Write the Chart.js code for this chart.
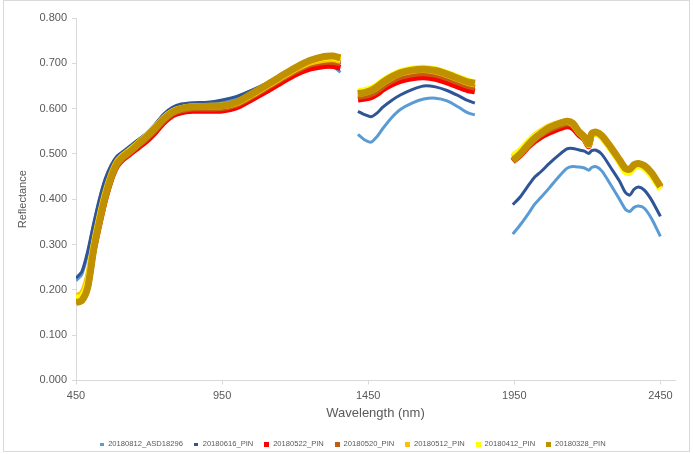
<!DOCTYPE html>
<html>
<head>
<meta charset="utf-8">
<script src="https://cdn.jsdelivr.net/npm/chart.js@4/dist/chart.umd.min.js"></script>
<style>
  html, body { margin: 0; padding: 0; background: #fff; }
  #wrap { width: 693px; height: 454px; position: relative; }
</style>
</head>
<body>
<div id="wrap"><canvas id="c" width="693" height="454"></canvas></div>
<script>
// Wavelength grid (nm); null reflectance at 1385 and 1880 = removed water-absorption bands
const wavelengths = [
  450, 470, 490, 510, 530, 550, 570, 590, 610, 630, 660, 690, 720, 750, 780, 810, 850, 900, 950, 1000, 1050, 1100, 1150, 1200, 1250, 1300, 1330, 1355,
  1385,
  1415, 1440, 1460, 1480, 1500, 1530, 1560, 1600, 1640, 1680, 1720, 1760, 1790, 1815,
  1880,
  1945, 1970, 2000, 2020, 2040, 2070, 2100, 2130, 2150, 2170, 2190, 2205, 2215, 2230, 2250, 2280, 2310, 2330, 2345, 2360, 2375, 2395, 2420, 2450
];

const seriesNames = ['20180812_ASD18296', '20180616_PIN', '20180522_PIN', '20180520_PIN', '20180512_PIN', '20180412_PIN', '20180328_PIN'];

const asd20180812 = [
  0.220, 0.234, 0.280, 0.342, 0.398, 0.443, 0.473, 0.494, 0.504, 0.514, 0.529, 0.544, 0.563, 0.585, 0.600, 0.607, 0.610, 0.611, 0.615, 0.623, 0.636, 0.650, 0.665, 0.680, 0.692, 0.697, 0.693, 0.680,
  null,
  0.543, 0.530, 0.526, 0.538, 0.556, 0.580, 0.598, 0.612, 0.621, 0.623, 0.617, 0.603, 0.591, 0.586,
  null,
  0.323, 0.343, 0.370, 0.389, 0.403, 0.425, 0.448, 0.468, 0.472, 0.471, 0.469, 0.464, 0.470, 0.472, 0.462, 0.432, 0.400, 0.378, 0.373, 0.382, 0.385, 0.380, 0.357, 0.318
];
const pin20180616 = [
  0.226, 0.240, 0.285, 0.345, 0.400, 0.445, 0.475, 0.495, 0.505, 0.515, 0.530, 0.545, 0.565, 0.588, 0.603, 0.610, 0.613, 0.614, 0.619, 0.627, 0.640, 0.655, 0.672, 0.690, 0.703, 0.708, 0.706, 0.698,
  null,
  0.594, 0.586, 0.582, 0.590, 0.603, 0.618, 0.630, 0.642, 0.650, 0.648, 0.640, 0.628, 0.618, 0.612,
  null,
  0.388, 0.405, 0.432, 0.449, 0.460, 0.479, 0.496, 0.511, 0.512, 0.509, 0.506, 0.501, 0.507, 0.508, 0.499, 0.470, 0.440, 0.415, 0.409, 0.422, 0.427, 0.420, 0.398, 0.362
];
const pin20180522 = [
  0.174, 0.178, 0.205, 0.285, 0.345, 0.400, 0.443, 0.473, 0.488, 0.498, 0.513, 0.528, 0.547, 0.569, 0.585, 0.592, 0.595, 0.595, 0.596, 0.603, 0.620, 0.638, 0.657, 0.675, 0.688, 0.694, 0.694, 0.690,
  null,
  0.620, 0.622, 0.625, 0.632, 0.642, 0.653, 0.661, 0.667, 0.669, 0.666, 0.658, 0.648, 0.641, 0.638,
  null,
  0.483, 0.497, 0.517, 0.528, 0.537, 0.547, 0.555, 0.561, 0.557, 0.543, 0.532, 0.517, 0.541, 0.545, 0.537, 0.512, 0.484, 0.465, 0.463, 0.473, 0.476, 0.471, 0.455, 0.425
];
const pin20180520 = [
  0.176, 0.180, 0.210, 0.290, 0.352, 0.405, 0.446, 0.476, 0.491, 0.501, 0.517, 0.533, 0.552, 0.573, 0.589, 0.596, 0.600, 0.600, 0.601, 0.609, 0.626, 0.645, 0.664, 0.682, 0.697, 0.703, 0.703, 0.700,
  null,
  0.626, 0.628, 0.632, 0.639, 0.649, 0.661, 0.670, 0.676, 0.678, 0.675, 0.667, 0.657, 0.650, 0.646,
  null,
  0.484, 0.499, 0.520, 0.532, 0.542, 0.553, 0.561, 0.567, 0.563, 0.547, 0.535, 0.520, 0.543, 0.546, 0.538, 0.513, 0.485, 0.466, 0.464, 0.474, 0.477, 0.472, 0.456, 0.426
];
const pin20180512 = [
  0.186, 0.192, 0.228, 0.300, 0.362, 0.415, 0.455, 0.483, 0.497, 0.507, 0.523, 0.540, 0.559, 0.580, 0.594, 0.601, 0.604, 0.604, 0.605, 0.612, 0.629, 0.648, 0.667, 0.686, 0.701, 0.708, 0.709, 0.705,
  null,
  0.632, 0.635, 0.639, 0.646, 0.656, 0.668, 0.677, 0.683, 0.685, 0.682, 0.674, 0.664, 0.657, 0.653,
  null,
  0.492, 0.506, 0.528, 0.541, 0.550, 0.561, 0.568, 0.572, 0.567, 0.549, 0.537, 0.521, 0.544, 0.547, 0.539, 0.513, 0.485, 0.465, 0.462, 0.473, 0.477, 0.472, 0.456, 0.427
];
const pin20180412 = [
  0.182, 0.186, 0.218, 0.295, 0.357, 0.410, 0.451, 0.480, 0.495, 0.505, 0.522, 0.539, 0.558, 0.579, 0.594, 0.601, 0.605, 0.606, 0.607, 0.614, 0.632, 0.651, 0.671, 0.690, 0.705, 0.712, 0.713, 0.709,
  null,
  0.638, 0.641, 0.645, 0.652, 0.662, 0.673, 0.682, 0.688, 0.690, 0.687, 0.679, 0.669, 0.662, 0.658,
  null,
  0.496, 0.509, 0.529, 0.540, 0.549, 0.560, 0.567, 0.571, 0.566, 0.548, 0.535, 0.519, 0.542, 0.545, 0.536, 0.510, 0.481, 0.460, 0.458, 0.469, 0.473, 0.468, 0.451, 0.422
];
const pin20180328 = [
  0.172, 0.176, 0.205, 0.287, 0.350, 0.405, 0.448, 0.478, 0.493, 0.503, 0.520, 0.537, 0.556, 0.577, 0.592, 0.600, 0.604, 0.605, 0.606, 0.614, 0.632, 0.651, 0.671, 0.690, 0.706, 0.715, 0.716, 0.712,
  null,
  0.633, 0.636, 0.640, 0.648, 0.658, 0.670, 0.679, 0.685, 0.687, 0.684, 0.676, 0.666, 0.659, 0.656,
  null,
  0.485, 0.500, 0.522, 0.535, 0.545, 0.558, 0.566, 0.572, 0.568, 0.550, 0.538, 0.522, 0.545, 0.548, 0.540, 0.515, 0.487, 0.468, 0.466, 0.476, 0.479, 0.474, 0.458, 0.428
];

const xTicks = [450, 950, 1450, 1950, 2450];
const yTicks = [0, 0.1, 0.2, 0.3, 0.4, 0.5, 0.6, 0.7, 0.8];

const allSeries = [asd20180812, pin20180616, pin20180522, pin20180520, pin20180512, pin20180412, pin20180328];
const colors = ['#5B9BD5', '#2F5597', '#FF0000', '#C55A11', '#FFC000', '#FFFF00', '#BF9000'];
const widths = [3, 3, 6, 6, 6, 6, 7];
const legendBox = [[4, 3], [4, 3], [5, 5], [5, 5], [5, 5], [5, 5], [5, 5]];

function markerCanvas(color, w, h) {
  const cv = document.createElement('canvas');
  cv.width = w; cv.height = h;
  const cx = cv.getContext('2d');
  cx.fillStyle = color;
  cx.fillRect(0, 0, w, h);
  return cv;
}

const datasets = allSeries.map((vals, i) => ({
  label: seriesNames[i],
  data: wavelengths.map((w, j) => ({ x: w, y: vals[j] })),
  borderColor: colors[i],
  backgroundColor: colors[i],
  borderWidth: widths[i],
  pointRadius: 0,
  tension: 0.25,
  spanGaps: false,
  borderJoinStyle: 'round',
  fill: false,
  order: allSeries.length - 1 - i,
  pointStyle: markerCanvas(colors[i], legendBox[i][0], legendBox[i][1])
}));

const frame = {
  id: 'frame',
  beforeDraw(chart) {
    const c = chart.ctx;
    c.save();
    c.fillStyle = '#fff';
    c.fillRect(0, 0, chart.width, chart.height);
    c.strokeStyle = '#D9D9D9';
    c.lineWidth = 1;
    c.strokeRect(3.5, 0.5, 686, 451);
    c.restore();
  },
  afterLayout(chart) {
    if (chart.legend) {
      chart.legend.top += 4; chart.legend.bottom += 4;
      chart.legend.left += 15; chart.legend.right += 15;
    }
  }
};

const gray = '#595959';
const axisGray = '#D9D9D9';

new Chart(document.getElementById('c'), {
  type: 'line',
  data: { datasets },
  plugins: [frame],
  options: {
    responsive: false,
    animation: false,
    events: [],
    layout: { padding: { left: 0, right: 18, top: 18, bottom: 0 } },
    plugins: {
      tooltip: { enabled: false },
      legend: {
        position: 'bottom',
        labels: {
          usePointStyle: true,
          boxWidth: 5,
          padding: 11,
          color: gray,
          font: { family: 'Liberation Sans', size: 7.6 },
          sort: (a, b) => a.datasetIndex - b.datasetIndex
        }
      }
    },
    scales: {
      x: {
        type: 'linear',
        min: 450,
        max: 2500,
        afterBuildTicks: (s) => { s.ticks = xTicks.map(v => ({ value: v })); },
        afterFit: (s) => { s.height = 45; },
        ticks: { color: gray, font: { family: 'Liberation Sans', size: 11 }, padding: 5, maxRotation: 0, callback: (v) => String(v) },
        grid: { display: true, drawOnChartArea: false, drawTicks: true, tickLength: 4, color: axisGray },
        border: { display: true, color: axisGray, width: 1 },
        title: { display: true, text: 'Wavelength (nm)', color: gray, font: { family: 'Liberation Sans', size: 13 }, padding: { top: 0, bottom: 4 } }
      },
      y: {
        type: 'linear',
        min: 0,
        max: 0.8,
        afterBuildTicks: (s) => { s.ticks = yTicks.map(v => ({ value: v })); },
        afterFit: (s) => { s.width = 76; },
        ticks: { color: gray, font: { family: 'Liberation Sans', size: 11 }, padding: 5, callback: (v) => Number(v).toFixed(3) },
        grid: { display: true, drawOnChartArea: false, drawTicks: true, tickLength: 4, color: axisGray },
        border: { display: true, color: axisGray, width: 1 },
        title: { display: true, text: 'Reflectance', color: gray, font: { family: 'Liberation Sans', size: 11 }, padding: { top: 16, bottom: 0 } }
      }
    }
  }
});
</script>
</body>
</html>
